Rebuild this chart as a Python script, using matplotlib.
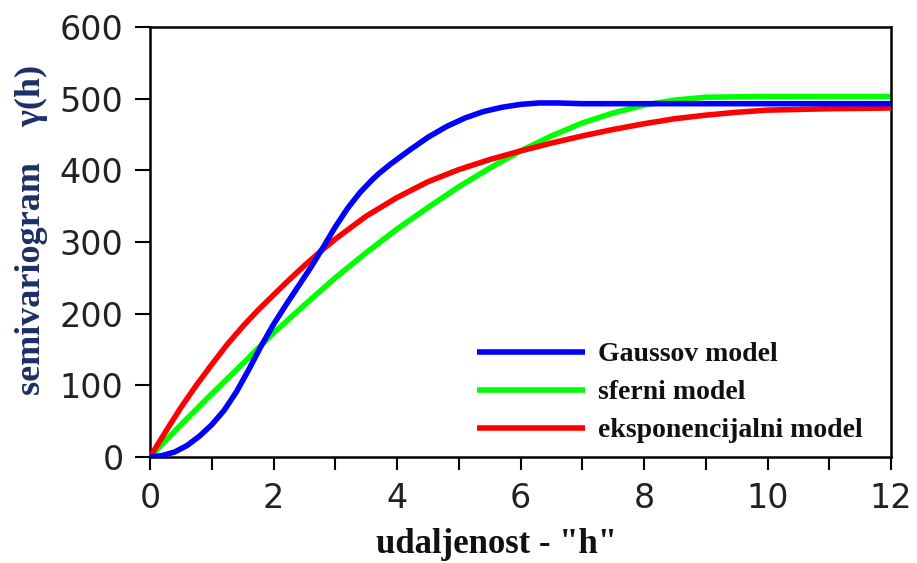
import matplotlib
matplotlib.use("Agg")
import matplotlib.pyplot as plt

# ---- data ----
gauss_x = [0, 0.2, 0.4, 0.6, 0.8, 1.0, 1.2, 1.4, 1.6, 1.8, 2.0, 2.2, 2.4, 2.6, 2.8, 3.0, 3.2, 3.4,
           3.6, 3.7, 3.9, 4.2, 4.5, 4.8, 5.1, 5.4, 5.7, 6.0, 6.3, 6.6, 7.0, 8, 9, 10, 11, 12]
gauss_y = [0, 2, 7, 16, 29, 45, 65, 91, 122, 155, 185, 212, 238, 264, 292, 321, 347, 369,
           387, 395, 409, 428, 446, 461, 473, 482, 488, 492, 494, 494, 493, 493, 493, 493, 493, 493]

sfer_x = [0, 0.5, 1.0, 1.5, 2.0, 2.5, 3.0, 3.5, 4.0, 4.5, 5.0, 5.5, 6.0, 6.5, 7.0, 7.5, 8.0,
          8.5, 9.0, 10, 11, 12]
sfer_y = [0, 45, 88, 130, 173, 212, 250, 285, 318, 348, 377, 403, 427, 448, 466, 480, 491,
          498, 502, 503, 503, 503]

eksp_x = [0, 0.25, 0.5, 0.75, 1.0, 1.25, 1.5, 1.75, 2.0, 2.25, 2.5, 2.75, 3.0, 3.5, 4.0, 4.5,
          5.0, 5.5, 6.0, 6.5, 7.0, 7.5, 8.0, 8.5, 9.0, 9.5, 10, 11, 12]
eksp_y = [0, 35, 69, 100, 129, 157, 182, 205, 226, 247, 267, 286, 304, 336, 362, 384,
          401, 415, 427, 438, 448, 457, 465, 472, 477, 481, 484, 486, 487]

labels = ["Gaussov model", "sferni model", "eksponencijalni model"]
x_ticks = list(range(0, 13))
x_ticklabels = [str(v) if v % 2 == 0 else "" for v in x_ticks]
y_ticks = [0, 100, 200, 300, 400, 500, 600]

W, H = 917, 563
fig = plt.figure(figsize=(W / 100, H / 100), dpi=100)
ax = fig.add_axes([150 / W, 1 - 457 / H, (891 - 150) / W, (457 - 27) / H])

lw = 4.0
kw = dict(lw=lw, solid_capstyle="butt", solid_joinstyle="round")
l_s, = ax.plot(sfer_x, sfer_y, color="#00ff00", zorder=2, **kw)
l_e, = ax.plot(eksp_x, eksp_y, color="#ff0000", zorder=3, **kw)
l_g, = ax.plot(gauss_x, gauss_y, color="#0000ff", zorder=4, **kw)

ax.set_xlim(0, 12)
ax.set_ylim(0, 600)
ax.set_xticks(x_ticks)
ax.set_xticklabels(x_ticklabels)
ax.set_yticks(y_ticks)

for s in ax.spines.values():
    s.set_linewidth(1.8)
    s.set_color("black")
ax.tick_params(axis="both", direction="out", width=1.5, colors="black",
               labelsize=24, labelcolor="#222222")
ax.tick_params(axis="y", length=11, pad=8)
ax.tick_params(axis="x", length=9, pad=9)
for t in ax.get_xticklabels() + ax.get_yticklabels():
    t.set_fontfamily("DejaVu Sans")

serif = ["Liberation Serif", "DejaVu Serif"]
leg = ax.legend([l_g, l_s, l_e], labels, loc="upper left",
                bbox_to_anchor=((477 - 150) / 741, (457 - 342) / 430),
                frameon=False, borderpad=0, borderaxespad=0,
                handlelength=3.9, handletextpad=0.45, labelspacing=0.45,
                prop={"family": serif, "weight": "bold", "size": 20})
for t in leg.get_texts():
    t.set_color("#111111")

fig.text(496 / W, 1 - 553 / H, 'udaljenost - "h"', ha="center", va="baseline",
         family=serif, weight="bold", fontsize=25, color="#111111")
fig.text(31 / W, 1 - 230 / H, "semivariogram    \u03b3(h)", ha="center", va="center",
         rotation=90, family=serif, weight="bold", fontsize=26, color="#1c2f66")

fig.savefig("out.png", dpi=100)
